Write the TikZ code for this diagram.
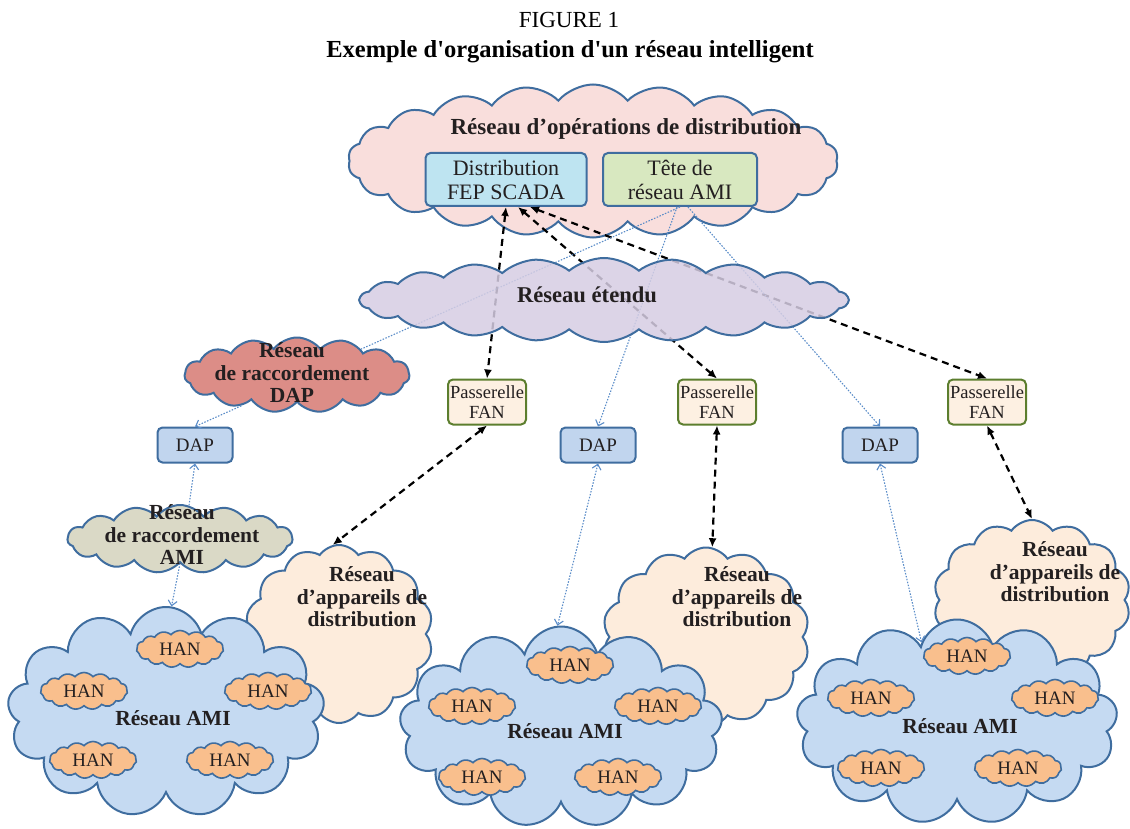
\documentclass[tikz,border=0pt]{standalone}
\usepackage{fontspec}
\setmainfont{Liberation Serif}
\newfontfamily\titrefont{Liberation Serif}
\usetikzlibrary{shapes.symbols,arrows.meta}

\definecolor{bord}{HTML}{3F6D9F}
\definecolor{roseops}{HTML}{F9DEDC}
\definecolor{cyanfep}{HTML}{BEE4F1}
\definecolor{vertami}{HTML}{D8E8C0}
\definecolor{lavande}{HTML}{D6CDE3}
\definecolor{saumon}{HTML}{DC8D87}
\definecolor{grisami}{HTML}{DAD9C6}
\definecolor{creme}{HTML}{FDECDC}
\definecolor{bleuami}{HTML}{C5DAF2}
\definecolor{orangehan}{HTML}{F9BF8D}
\definecolor{bleudap}{HTML}{C1D5EE}
\definecolor{cremefan}{HTML}{FDF0E2}
\definecolor{vertfan}{HTML}{5C7E2E}
\definecolor{pointbleu}{HTML}{5A8CC8}
\definecolor{encre}{HTML}{231F20}

\tikzset{
  nuage/.style={cloud, cloud ignores aspect, draw=bord, line width=2pt, inner sep=0pt},
  etiquette/.style={align=center, text=encre, font=\bfseries\fontsize{21.5}{22.5}\selectfont},
  boite/.style={draw=bord, line width=2pt, rounded corners=5pt, align=center, inner sep=0pt, text=encre},
  han/.style={nuage, fill=orangehan, cloud puffs=15, cloud puff arc=100, line width=1.6pt, minimum width=87, minimum height=37, text=encre, font=\fontsize{19}{19}\selectfont},
  passerelle/.style={boite, draw=vertfan, fill=cremefan, minimum width=78, minimum height=45, font=\fontsize{18.5}{20}\selectfont},
  dap/.style={boite, fill=bleudap, minimum width=75, minimum height=35, font=\fontsize{19}{20}\selectfont},
  tiret/.style={draw=black, line width=2.2pt, dash pattern=on 7pt off 5pt, {Latex[length=9pt,width=8pt]}-{Latex[length=9pt,width=8pt]}},
  pointille/.style={draw=pointbleu, line width=1.1pt, dash pattern=on 1.5pt off 1.5pt},
  pointe/.style={-{Straight Barb[length=5pt,width=9pt]}},
  pointes/.style={{Straight Barb[length=5pt,width=9pt]}-{Straight Barb[length=5pt,width=9pt]}},
}

\begin{document}
\begin{tikzpicture}[x=1pt,y=-1pt]
  \useasboundingbox (0,0) rectangle (1130,829);
  % titre
  \node[font=\fontsize{23}{25}\selectfont] (figure) at (569,20) {FIGURE 1};
  \node[font=\titrefont\bfseries\fontsize{24.5}{27}\selectfont] (titre) at (570,51.5) {Exemple d'organisation d'un réseau intelligent};

  % reseau d'operations
  \node[nuage, fill=roseops, cloud puffs=22, cloud puff arc=100, minimum width=490, minimum height=153] (ops) at (593,161) {};
  \node[etiquette, font=\bfseries\fontsize{23}{24}\selectfont] (ops-t) at (626,129) {Réseau d’opérations de distribution};
  \node[boite, fill=cyanfep, minimum width=161, minimum height=53, font=\fontsize{22}{24}\selectfont] (fep) at (506,179.5) {Distribution\\FEP SCADA};
  \node[boite, fill=vertami, minimum width=154, minimum height=53, font=\fontsize{22}{24}\selectfont] (tete) at (680,179.5) {Tête de\\réseau AMI};

  % raccordement
  \node[nuage, fill=saumon, cloud puffs=15, cloud puff arc=105, minimum width=225, minimum height=75] (raccdap) at (297,375) {};
  \node[etiquette] (raccdap-t) at (292,373) {Réseau\\de raccordement\\DAP};
  \node[nuage, fill=grisami, cloud puffs=15, cloud puff arc=105, minimum width=225, minimum height=68] (raccami) at (180,539) {};
  \node[etiquette] (raccami-t) at (182,535) {Réseau\\de raccordement\\AMI};

  % appareils de distribution
  \node[nuage, fill=creme, cloud puffs=14, cloud puff arc=110, minimum width=188, minimum height=178] (dist1) at (339,634) {};
  \node[nuage, fill=creme, cloud puffs=14, cloud puff arc=110, minimum width=207, minimum height=179] (dist2) at (706,637) {};
  \node[nuage, fill=creme, cloud puffs=14, cloud puff arc=110, minimum width=197, minimum height=160] (dist3) at (1032,600) {};
  \node[etiquette] (dist1-t) at (362,597) {Réseau\\d’appareils de\\distribution};
  \node[etiquette] (dist2-t) at (737,597) {Réseau\\d’appareils de\\distribution};
  \node[etiquette] (dist3-t) at (1055,572) {Réseau\\d’appareils de\\distribution};

  % reseaux AMI
  \node[nuage, fill=bleuami, cloud puffs=13, minimum width=317, minimum height=210] (ami1) at (166,712) {};
  \node[nuage, fill=bleuami, cloud puffs=13, minimum width=323, minimum height=201] (ami2) at (561,727) {};
  \node[nuage, fill=bleuami, cloud puffs=13, minimum width=321, minimum height=205] (ami3) at (957,722) {};
  \node[etiquette] (ami1-t) at (173,718) {Réseau AMI};
  \node[etiquette] (ami2-t) at (565,731) {Réseau AMI};
  \node[etiquette] (ami3-t) at (960,726) {Réseau AMI};
  \foreach \nom/\x/\y in {h11/180/649, h12/84/691, h13/268/691, h14/93/760, h15/230/760,
                          h21/570/665, h22/472/706, h23/658/706, h24/482/777, h25/618/777,
                          h31/967/656, h32/871/698, h33/1055/698, h34/881/768, h35/1018/768}
    \node[han] (\nom) at (\x,\y) {HAN};

  % DAP et passerelles
  \node[dap] (dap1) at (195,445) {DAP};
  \node[dap] (dap2) at (598,445) {DAP};
  \node[dap] (dap3) at (880,445) {DAP};
  \node[passerelle] (pas1) at (487,402) {Passerelle\\FAN};
  \node[passerelle] (pas2) at (717,402) {Passerelle\\FAN};
  \node[passerelle] (pas3) at (987,402) {Passerelle\\FAN};

  % liaisons
  \draw[tiret] (fep.south) -- (pas1.north);
  \draw[tiret] ([xshift=12]fep.south) -- (pas2.north);
  \draw[tiret] ([xshift=24]fep.south) -- (pas3.north);
  \draw[tiret] (pas1.south) -- (dist1.94);
  \draw[tiret] (pas2.south) -- (dist2.86);
  \draw[tiret] (pas3.south) -- (dist3.north);

  \draw[pointille] (tete.south) -- (raccdap.22);
  \draw[pointille, pointe] (raccdap.209) -- (dap1.north);
  \draw[pointille, pointe] (raccami.75) -- (dap1.south);
  \draw[pointille, pointe] (raccami.south) -- (ami1.87);
  \draw[pointille, pointe] ([xshift=-3]tete.south) -- (dap2.north);
  \draw[pointille, pointe] ([xshift=8]tete.south) -- (dap3.north);
  \draw[pointille, pointes] (dap2.south) -- (ami2.92);
  \draw[pointille, pointes] (dap3.south) -- (ami3.114);

  % reseau etendu
  \node[nuage, fill=lavande, fill opacity=0.85, cloud puffs=22, cloud puff arc=80, minimum width=488, minimum height=84] (wan) at (604,300) {};
  \node[etiquette, font=\bfseries\fontsize{22.6}{24}\selectfont] (wan-t) at (587,295) {Réseau étendu};
\end{tikzpicture}
\end{document}
